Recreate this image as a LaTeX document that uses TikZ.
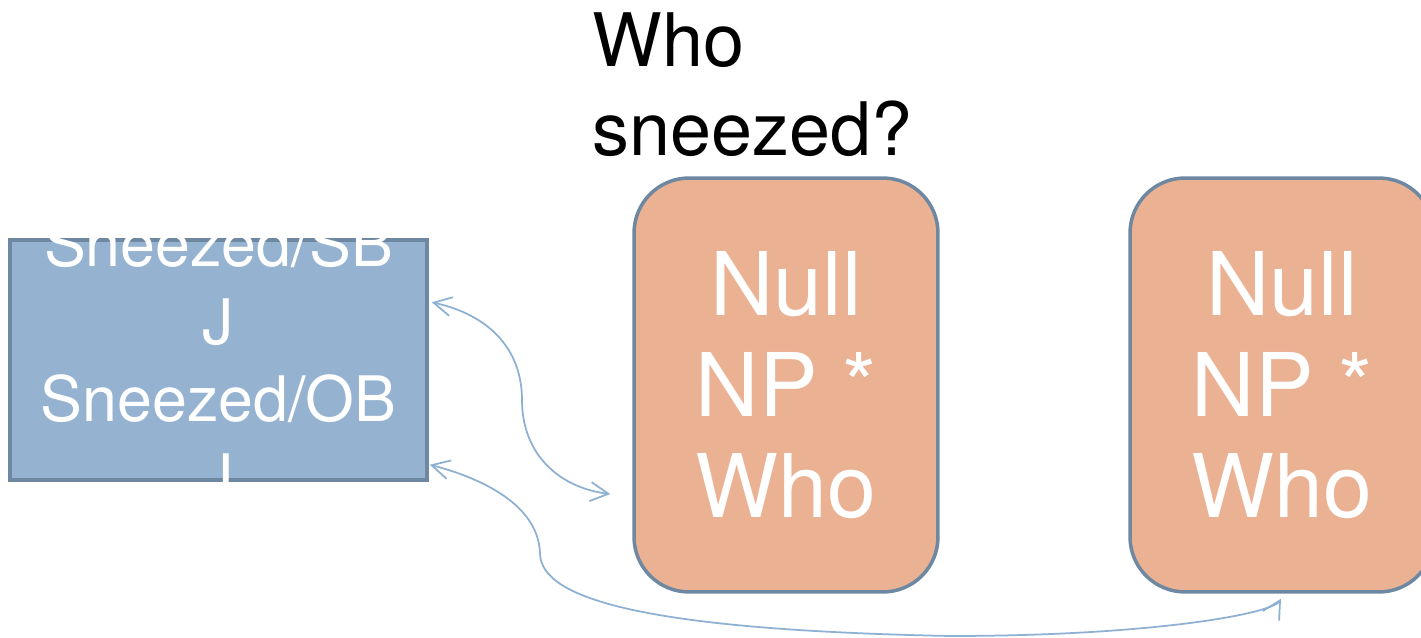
\documentclass[tikz,border=0pt]{standalone}
\usepackage{fontspec}
\setmainfont{TeX Gyre Heros}
\usepackage{tikz}
\usetikzlibrary{positioning, arrows.meta, calc}

\definecolor{boxblue}{HTML}{95B3D1}
\definecolor{boxorange}{HTML}{EBB193}
\definecolor{edgegrey}{HTML}{6F88A1}
\definecolor{linkblue}{HTML}{8DB0D3}

\begin{document}
\begin{tikzpicture}[x=0.02cm, y=-0.02cm,
        verbbox/.style={rectangle, draw=edgegrey, line width=2pt, fill=boxblue,
            minimum width=8.34cm, minimum height=4.8cm, inner sep=0pt},
        verbtext/.style={text=white, align=center, inner sep=0pt,
            font=\fontsize{35.7}{44.2}\selectfont},
        nullbox/.style={rectangle, rounded corners=1.1cm, draw=edgegrey, line width=2pt,
            fill=boxorange, minimum width=6.08cm, minimum height=8.28cm, inner sep=0pt,
            text=white, align=center, font=\fontsize{50}{57.5}\selectfont},
        link/.style={draw=linkblue, line width=1pt,
            {Straight Barb[length=0.36cm, width=0.38cm]}-{Straight Barb[length=0.36cm, width=0.38cm]}}]
    \useasboundingbox (0,0) rectangle (1421,638);

    % Question on top
    \node[anchor=north west, align=left, inner sep=0pt, font=\fontsize{42}{51}\selectfont]
        (question) at (592,12) {Who\\sneezed?};

    % Verb frame - blue
    \node[verbbox] (verb) at (218.5,360) {};
    \node[verbtext] (verbtext) at (verb.center) {Sneezed/SB\\J\\Sneezed/OB\\J};

    % Null subjects - orange
    \node[nullbox] (null1) at (786,385) {Null\\NP *\\Who};
    \node[nullbox] (null2) at (1282,385) {Null\\NP *\\Who};

    % Links
    \draw[link] ($(verb.north east)+(3,64)$) .. controls (490,315) and (522,350) .. (522,400)
        .. controls (522,455) and (560,488) .. ($(null1.west)+(-22,109)$);
    \draw[link] ($(verb.south east)+(1,-17)$) .. controls (470,475) and (538,500) .. (540,553)
        .. controls (540,600) and (650,630) .. (950,636)
        .. controls (1150,636) and (1272,614) .. ($(null2.south)+(-1,5)$);
\end{tikzpicture}
\end{document}
